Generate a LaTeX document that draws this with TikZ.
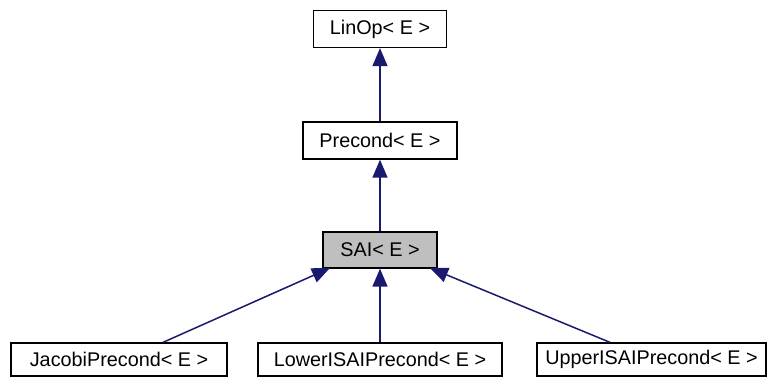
\documentclass[tikz,border=0pt]{standalone}
\usepackage{fontspec}
\setmainfont{Liberation Sans}
\usetikzlibrary{arrows.meta}
\definecolor{edgeblue}{HTML}{191970}
\definecolor{hilite}{HTML}{BFBFBF}
\tikzset{
  cls/.style={draw=black, line width=1.3pt, inner sep=0pt, font=\fontsize{19.8}{23}\selectfont, fill=white},
  inh/.style={draw=edgeblue, line width=1.5pt, -{Triangle[length=18pt,width=15pt]}, color=edgeblue}
}
\begin{document}
\begin{tikzpicture}[x=1pt,y=-1pt]
\useasboundingbox (0,0) rectangle (770,376);
\node[cls, minimum width=133pt, minimum height=37pt] (linop) at (380,29) {LinOp< E >};
\node[cls, minimum width=154pt, minimum height=37pt] (precond) at (380,140.5) {Precond< E >};
\node[cls, fill=hilite, minimum width=114pt, minimum height=36pt] (sai) at (380,250) {SAI< E >};
\node[cls, minimum width=216pt, minimum height=33pt] (jacobi) at (119,359.5) {JacobiPrecond< E >};
\node[cls, minimum width=244pt, minimum height=33pt] (lower) at (380,359.5) {LowerISAIPrecond< E >};
\node[cls, minimum width=229pt, minimum height=33pt] (upper) at (651.5,359.5) {UpperISAIPrecond< E >};
\draw[inh] (precond.north) -- (linop.south);
\draw[inh] (sai.north) -- (precond.south);
\draw[inh] (lower.north) -- (sai.south);
\draw[inh] (jacobi.north -| 163,0) -- (330,268);
\draw[inh] (upper.north -| 610,0) -- (430,268);
\end{tikzpicture}
\end{document}
